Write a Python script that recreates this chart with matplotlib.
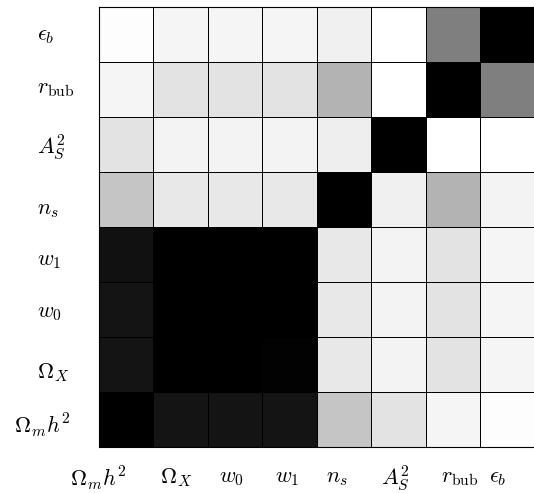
import matplotlib
matplotlib.use("Agg")
import matplotlib.pyplot as plt
import numpy as np

plt.rcParams["mathtext.fontset"] = "cm"

# parameter names, bottom-to-top rows / left-to-right columns
params = [r"$\Omega_m h^2$", r"$\Omega_X$", r"$w_0$", r"$w_1$",
          r"$n_s$", r"$A_S^2$", r"$r_{\rm bub}$", r"$\epsilon_b$"]

# |correlation|
corr = [
    [1.00, 0.92, 0.92, 0.92, 0.23, 0.11, 0.04, 0.01],
    [0.92, 1.00, 1.00, 0.99, 0.09, 0.05, 0.11, 0.04],
    [0.92, 1.00, 1.00, 1.00, 0.09, 0.05, 0.11, 0.04],
    [0.93, 1.00, 1.00, 1.00, 0.09, 0.05, 0.11, 0.04],
    [0.23, 0.09, 0.09, 0.09, 1.00, 0.06, 0.30, 0.05],
    [0.11, 0.05, 0.05, 0.05, 0.07, 1.00, 0.00, 0.00],
    [0.04, 0.11, 0.11, 0.11, 0.30, 0.00, 1.00, 0.50],
    [0.01, 0.04, 0.04, 0.04, 0.06, 0.00, 0.50, 1.00],
]

# label placement (data units), tuned to the reference
xlab_pos = [0.0, 1.42, 2.43, 3.45, 4.37, 5.44, 6.63, 7.33]
ylab_pos = [0.39, 1.35, 2.44, 3.39, 4.31, 5.47, 6.51, 7.48]
ylab_x = [-1.55, -1.14, -1.14, -1.14, -1.14, -1.14, -1.14, -1.14]

fig = plt.figure(figsize=(5.34, 4.93), dpi=100)
ax = fig.add_axes([0.185, 0.0933, 0.8165, 0.8925])

ax.pcolormesh(np.array(corr), cmap="gray_r", vmin=0, vmax=1,
              edgecolors="k", linewidth=0.45)
ax.set_xlim(0, 8)
ax.set_ylim(0, 8)
ax.set_xticks([])
ax.set_yticks([])
for s in ax.spines.values():
    s.set_linewidth(0.8)

for lab, x in zip(params, xlab_pos):
    ax.text(x, -0.56, lab, ha="center", va="center", fontsize=16, clip_on=False)
for lab, y, x in zip(params, ylab_pos, ylab_x):
    ax.text(x, y, lab, ha="left", va="center", fontsize=16, clip_on=False)

fig.savefig("out.png", dpi=100)
